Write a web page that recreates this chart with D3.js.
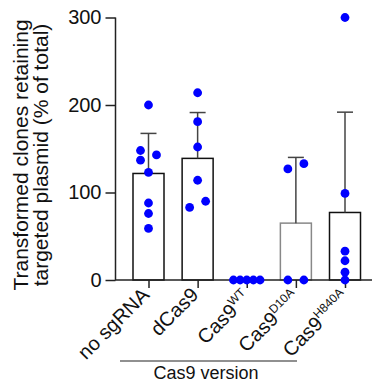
<!DOCTYPE html>
<html>
<head>
<meta charset="utf-8">
<script src="https://cdn.jsdelivr.net/npm/d3@7"></script>
<style>
  body { margin: 0; background: #fff; }
  svg { display: block; font-family: "Liberation Sans", Arial, sans-serif; }
  .tick text { font-size: 20px; fill: #111; }
</style>
</head>
<body>
<svg id="chart" width="372" height="390"></svg>
<script>
// values (% of total)
var categories = ["no sgRNA", "dCas9", "Cas9WT", "Cas9D10A", "Cas9H840A"];
var labelMain = ["no sgRNA", "dCas9", "Cas9", "Cas9", "Cas9"];
var labelSup = ["", "", "WT", "D10A", "H840A"];
var noSgRNA = [200, 148, 143, 137, 123, 88, 76, 59];
var dCas9 = [214, 181, 152, 114, 90, 83];
var cas9WT = [0, 0, 0, 0, 0];
var cas9D10A = [133, 127, 0, 0];
var cas9H840A = [300, 99, 33, 22, 9, 0];
var yTicks = [0, 100, 200, 300];

var series = [noSgRNA, dCas9, cas9WT, cas9D10A, cas9H840A];

var svg = d3.select("#chart");

var x = d3.scalePoint().domain(categories).range([148.5, 345]);
var y = d3.scaleLinear().domain([0, 300]).range([280, 17.5]);
var barW = 31, r = 4.4;

var groups = categories.map(function(c, i) {
  var v = series[i];
  return { cat: c, values: v, mean: d3.mean(v), sd: d3.deviation(v) || 0, i: i };
});

// bars
svg.append("g").selectAll("rect")
  .data(groups)
  .enter().append("rect")
    .attr("x", function(d) { return x(d.cat) - barW / 2; })
    .attr("y", function(d) { return y(d.mean); })
    .attr("width", barW)
    .attr("height", function(d) { return y(0) - y(d.mean); })
    .attr("fill", "#fff")
    .attr("stroke", function(d) { return d.cat === "Cas9D10A" ? "#888" : "#111"; })
    .attr("stroke-width", 1.5);

// error bars (mean + SD)
var err = svg.append("g").attr("stroke", "#444").attr("stroke-width", 1.5)
  .selectAll("g").data(groups.filter(function(d) { return d.sd > 0; }))
  .enter().append("g");
err.append("line")
  .attr("x1", function(d) { return x(d.cat); })
  .attr("x2", function(d) { return x(d.cat); })
  .attr("y1", function(d) { return y(d.mean); })
  .attr("y2", function(d) { return y(d.mean + d.sd); });
err.append("line")
  .attr("x1", function(d) { return x(d.cat) - 8; })
  .attr("x2", function(d) { return x(d.cat) + 8; })
  .attr("y1", function(d) { return y(d.mean + d.sd); })
  .attr("y2", function(d) { return y(d.mean + d.sd); });

// axes
var yAxis = svg.append("g")
  .attr("transform", "translate(115.5,0)")
  .call(d3.axisLeft(y).tickValues(yTicks).tickSize(10).tickSizeOuter(0).tickPadding(4));
yAxis.selectAll("path,line").attr("stroke", "#222").attr("stroke-width", 1.5);
yAxis.select(".domain").remove();
svg.append("line")
  .attr("x1", 115.5).attr("x2", 115.5)
  .attr("y1", y(300)).attr("y2", y(0))
  .attr("stroke", "#222").attr("stroke-width", 1.5);

var xAxis = svg.append("g")
  .attr("transform", "translate(0," + y(0) + ")")
  .call(d3.axisBottom(x).tickSize(8).tickSizeOuter(0).tickFormat(""));
xAxis.select(".domain").remove();
xAxis.selectAll("line").attr("stroke", "#222").attr("stroke-width", 1.5);
svg.append("line")
  .attr("x1", 115).attr("x2", 372)
  .attr("y1", y(0)).attr("y2", y(0))
  .attr("stroke", "#222").attr("stroke-width", 1.5);

// dots, spread sideways like a column scatter
function spread(values) {
  var pts = values.map(function(v) { return { v: v, dx: 0 }; });
  var s = pts.slice().sort(function(a, b) { return a.v - b.v; });
  var clusters = [], cur = [];
  s.forEach(function(p, k) {
    if (k > 0 && Math.abs(y(s[k - 1].v) - y(p.v)) >= 7) { clusters.push(cur); cur = []; }
    cur.push(p);
  });
  clusters.push(cur);
  clusters.forEach(function(c) {
    var n = c.length;
    if (n < 2) return;
    var span = Math.abs(y(c[0].v) - y(c[n - 1].v));
    if (span < 7) {
      var step = Math.min(16, 26.6 / (n - 1));
      c.forEach(function(p, k) { p.dx = (k - (n - 1) / 2) * step; });
    } else {
      c.forEach(function(p, k) { p.dx = k % 2 === 0 ? -8 : 8; });
    }
  });
  return pts;
}

var dots = [];
groups.forEach(function(g) {
  spread(g.values).forEach(function(p) { dots.push({ cat: g.cat, v: p.v, dx: p.dx }); });
});
svg.append("g").selectAll("circle")
  .data(dots)
  .enter().append("circle")
    .attr("cx", function(d) { return x(d.cat) + d.dx; })
    .attr("cy", function(d) { return y(d.v); })
    .attr("r", r)
    .attr("fill", "#0000ff");

// category labels (labels with a superscript sit a little lower)
var lab = svg.append("g").selectAll("text")
  .data(groups)
  .enter().append("text")
    .attr("transform", function(d) {
      var s = labelSup[d.i] ? 3 : 0;
      return "translate(" + (x(d.cat) + 2 + s) + "," + (296 + s) + ") rotate(-45)";
    })
    .attr("text-anchor", "end")
    .attr("font-size", 20)
    .attr("fill", "#111");
lab.append("tspan").text(function(d) { return labelMain[d.i]; });
lab.append("tspan")
  .attr("font-size", 12)
  .attr("dy", "-0.7em")
  .text(function(d) { return labelSup[d.i]; });

// y title
var yt = svg.append("text")
  .attr("transform", "translate(0,155) rotate(-90)")
  .attr("text-anchor", "middle")
  .attr("font-size", 21)
  .attr("fill", "#111");
yt.append("tspan").attr("x", 0).attr("y", 27.5).text("Transformed clones retaining");
yt.append("tspan").attr("x", 0).attr("y", 48).text("targeted plasmid (% of total)");

// group bracket
svg.append("line")
  .attr("x1", 120).attr("x2", 297).attr("y1", 361).attr("y2", 361)
  .attr("stroke", "#222").attr("stroke-width", 1.2);
svg.append("text")
  .attr("x", 206).attr("y", 379)
  .attr("text-anchor", "middle")
  .attr("font-size", 18)
  .attr("fill", "#111")
  .text("Cas9 version");
</script>
</body>
</html>
